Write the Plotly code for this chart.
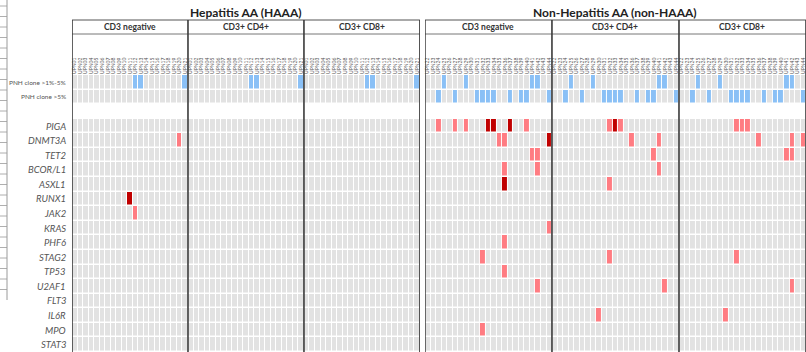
import numpy as np
import plotly.graph_objects as go

# ---------------- data ----------------
group_titles = ["Hepatitis AA (HAAA)", "Non-Hepatitis AA (non-HAAA)"]
cell_types = ["CD3 negative", "CD3+ CD4+", "CD3+ CD8+"]

haaa_ids = ["UPN01", "UPN02", "UPN03", "UPN04", "UPN05", "UPN06", "UPN07",
            "UPN08", "UPN09", "UPN10", "UPN11", "UPN12", "UPN13", "UPN14",
            "UPN15", "UPN16", "UPN17", "UPN18", "UPN19", "UPN20", "UPN21"]
non_ids = ["UPN22", "UPN23", "UPN24", "UPN25", "UPN26", "UPN27", "UPN28",
           "UPN29", "UPN30", "UPN31", "UPN32", "UPN33", "UPN34", "UPN35",
           "UPN36", "UPN37", "UPN38", "UPN39", "UPN40", "UPN41", "UPN42",
           "UPN43", "UPN44"]

pnh_labels = ["PNH clone >1%-5%", "PNH clone >5%"]
genes = ["PIGA", "DNMT3A", "TET2", "BCOR/L1", "ASXL1", "RUNX1", "JAK2", "KRAS",
         "PHF6", "STAG2", "TP53", "U2AF1", "FLT3", "IL6R", "MPO", "STAT3"]

# PNH clone status per patient (0-based patient index within group)
haaa_pnh_1_5 = [11, 12, 20]
haaa_pnh_gt5 = []
non_pnh_1_5 = [3, 7, 19, 20]
non_pnh_gt5 = [2, 5, 9, 10, 11, 12, 15, 17, 18, 22]

# mutations: (cell type, gene, patient index, level) ; level "low" / "high"
haaa_mutations = [
    ("CD3 negative", "DNMT3A", 19, "low"),
    ("CD3 negative", "RUNX1", 10, "high"),
    ("CD3 negative", "JAK2", 11, "low"),
]
non_mutations = [
    ("CD3 negative", "PIGA", 2, "low"), ("CD3 negative", "PIGA", 5, "low"),
    ("CD3 negative", "PIGA", 7, "low"), ("CD3 negative", "PIGA", 11, "high"),
    ("CD3 negative", "PIGA", 12, "high"), ("CD3 negative", "PIGA", 15, "high"),
    ("CD3 negative", "PIGA", 18, "low"),
    ("CD3 negative", "DNMT3A", 13, "low"), ("CD3 negative", "DNMT3A", 14, "low"),
    ("CD3 negative", "DNMT3A", 22, "high"),
    ("CD3 negative", "TET2", 19, "low"), ("CD3 negative", "TET2", 20, "low"),
    ("CD3 negative", "BCOR/L1", 14, "low"), ("CD3 negative", "BCOR/L1", 20, "low"),
    ("CD3 negative", "ASXL1", 14, "high"),
    ("CD3 negative", "KRAS", 22, "low"),
    ("CD3 negative", "PHF6", 14, "low"),
    ("CD3 negative", "STAG2", 10, "low"),
    ("CD3 negative", "TP53", 14, "low"),
    ("CD3 negative", "U2AF1", 20, "low"),
    ("CD3 negative", "MPO", 10, "low"),
    ("CD3+ CD4+", "PIGA", 10, "low"), ("CD3+ CD4+", "PIGA", 11, "high"),
    ("CD3+ CD4+", "PIGA", 12, "low"),
    ("CD3+ CD4+", "DNMT3A", 14, "low"), ("CD3+ CD4+", "DNMT3A", 19, "low"),
    ("CD3+ CD4+", "TET2", 18, "low"),
    ("CD3+ CD4+", "BCOR/L1", 19, "low"),
    ("CD3+ CD4+", "ASXL1", 10, "low"),
    ("CD3+ CD4+", "STAG2", 10, "low"),
    ("CD3+ CD4+", "U2AF1", 20, "low"),
    ("CD3+ CD4+", "IL6R", 8, "low"),
    ("CD3+ CD8+", "PIGA", 10, "low"), ("CD3+ CD8+", "PIGA", 11, "low"),
    ("CD3+ CD8+", "PIGA", 12, "low"),
    ("CD3+ CD8+", "DNMT3A", 14, "low"), ("CD3+ CD8+", "DNMT3A", 20, "low"),
    ("CD3+ CD8+", "DNMT3A", 22, "low"),
    ("CD3+ CD8+", "TET2", 19, "low"), ("CD3+ CD8+", "TET2", 20, "low"),
    ("CD3+ CD8+", "STAG2", 10, "low"),
    ("CD3+ CD8+", "U2AF1", 20, "low"),
    ("CD3+ CD8+", "IL6R", 8, "low"),
]

# ---------------- styling ----------------
GRAY = "#e2e2e2"
BLUE = "#8ac0f6"
LIGHTRED = "#ff7c82"
DARKRED = "#c00000"
TXT = "#555555"
LINE = "#3a3a3a"
FONT = "Lato"

rows = pnh_labels + [""] + genes
nrows = len(rows)
level_code = {"low": 2, "high": 3}


def build_matrix(ids, pnh15, pnhgt5, muts):
    n = len(ids)
    z = np.zeros((nrows, n * len(cell_types)))
    z[2, :] = np.nan
    for c in range(len(cell_types)):
        for p in pnh15:
            z[0, c * n + p] = 1
        for p in pnhgt5:
            z[1, c * n + p] = 1
    for ct, g, p, lvl in muts:
        c = cell_types.index(ct)
        z[rows.index(g), c * n + p] = level_code[lvl]
    return z


z_h = build_matrix(haaa_ids, haaa_pnh_1_5, haaa_pnh_gt5, haaa_mutations)
z_n = build_matrix(non_ids, non_pnh_1_5, non_pnh_gt5, non_mutations)

cscale = [[0, GRAY], [0.125, GRAY], [0.125, BLUE], [0.5, BLUE],
          [0.5, LIGHTRED], [0.8333, LIGHTRED], [0.8333, DARKRED], [1, DARKRED]]

W, H = 806, 352
ML, MT = 72, 75
plot_w = W - ML
plot_h = H - MT
gap_px = 5
n_h = len(haaa_ids) * 3
n_n = len(non_ids) * 3
cw = (plot_w - gap_px) / (n_h + n_n)
dom1 = [0, n_h * cw / plot_w]
dom2 = [(n_h * cw + gap_px) / plot_w, 1]


def py(Y):
    return (H - Y) / plot_h


def px(X):
    return (X - ML) / plot_w


fig = go.Figure()
fig.add_trace(go.Heatmap(z=z_h, x=list(range(n_h)), y=list(range(nrows)),
                         colorscale=cscale, zmin=0, zmax=3, showscale=False,
                         xgap=1, ygap=1.5, hoverinfo="skip", xaxis="x", yaxis="y"))
fig.add_trace(go.Heatmap(z=z_n, x=list(range(n_n)), y=list(range(nrows)),
                         colorscale=cscale, zmin=0, zmax=3, showscale=False,
                         xgap=1, ygap=1.5, hoverinfo="skip", xaxis="x2", yaxis="y"))

axis_common = dict(side="top", tickangle=-90, showgrid=False, zeroline=False,
                   ticks="", showline=False, automargin=False,
                   tickfont=dict(family=FONT, size=5, color="#555555"))
fig.update_layout(
    width=W, height=H,
    margin=dict(l=ML, r=0, t=MT, b=0, pad=0, autoexpand=False),
    paper_bgcolor="white", plot_bgcolor="white",
    showlegend=False,
    xaxis=dict(domain=dom1, range=[-0.5, n_h - 0.5], anchor="y",
               tickvals=list(range(n_h)), ticktext=haaa_ids * 3, **axis_common),
    xaxis2=dict(domain=dom2, range=[-0.5, n_n - 0.5], anchor="y",
                tickvals=list(range(n_n)), ticktext=non_ids * 3, **axis_common),
    yaxis=dict(range=[nrows - 0.5, -0.5], showticklabels=False, showgrid=False,
               zeroline=False, fixedrange=True, automargin=False),
)

shapes = []
annotations = []

# spreadsheet remnant at far left edge
shapes.append(dict(type="line", xref="paper", yref="paper", x0=px(7), x1=px(7),
                   y0=py(0), y1=py(300), line=dict(color="#9a9a9a", width=1)))
for Yt in np.arange(6, 300, 10.5):
    shapes.append(dict(type="line", xref="paper", yref="paper", x0=px(0), x1=px(7),
                       y0=py(Yt), y1=py(Yt), line=dict(color="#9a9a9a", width=0.8)))

groups = [("x", len(haaa_ids), group_titles[0]), ("x2", len(non_ids), group_titles[1])]
for xr, n, title in groups:
    total = n * 3
    # header lines
    for Y, col in ((20, "#555555"), (34, "#777777")):
        shapes.append(dict(type="line", xref=xr, yref="paper", x0=-0.5, x1=total - 0.5,
                           y0=py(Y), y1=py(Y), line=dict(color=col, width=1)))
    # vertical borders
    for k in range(4):
        xv = k * n - 0.5
        shapes.append(dict(type="line", xref=xr, yref="paper", x0=xv, x1=xv,
                           y0=py(20), y1=0, line=dict(color=LINE, width=1.6)))
    # titles
    annotations.append(dict(xref=xr, yref="paper", x=(total - 1) / 2, y=py(12),
                            yanchor="middle", text=f"<b>{title}</b>", showarrow=False,
                            font=dict(family=FONT, size=12, color="#222222")))
    for k, ct in enumerate(cell_types):
        annotations.append(dict(xref=xr, yref="paper", x=k * n + (n - 1) / 2, y=py(27),
                                yanchor="middle", text=f"<b>{ct}</b>", showarrow=False,
                                font=dict(family=FONT, size=8.5, color="#333333")))

for i, r in enumerate(rows):
    if not r:
        continue
    if i < 2:
        txt, size = r, 6.5
    else:
        txt, size = f"<i>{r}</i>", 9.5
    annotations.append(dict(xref="paper", yref="y", x=0, y=i, xanchor="right",
                            yanchor="middle", xshift=-4, text=txt, showarrow=False,
                            font=dict(family=FONT, size=size, color=TXT)))

fig.update_layout(shapes=shapes, annotations=annotations)
fig.write_html("out.html", config={"displayModeBar": False},
               post_script="document.body.style.margin='0';document.body.style.overflow='hidden';")
